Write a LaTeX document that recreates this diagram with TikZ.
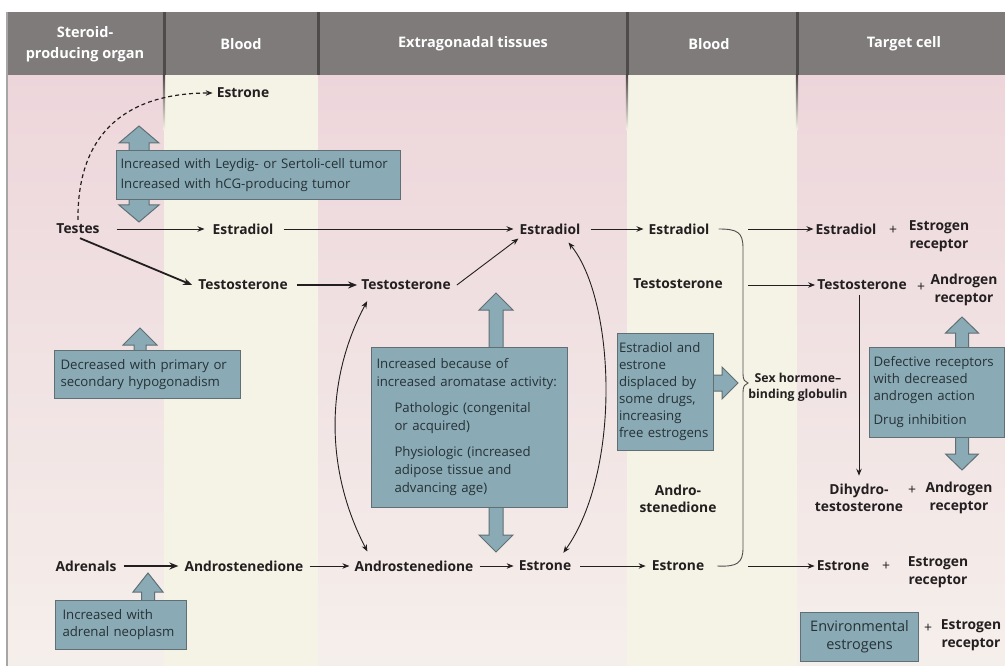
\documentclass[tikz,border=0pt]{standalone}
\usepackage{fontspec}
\setmainfont{Open Sans}
\usetikzlibrary{arrows.meta,calc}
\definecolor{pinkT}{HTML}{EDD6DB}
\definecolor{pinkB}{HTML}{F5EFEB}
\definecolor{creamc}{HTML}{F5F2E6}
\definecolor{hdrc}{HTML}{807B7B}
\definecolor{sepc}{HTML}{4F4B4B}
\definecolor{boxfill}{HTML}{8AAAB5}
\definecolor{boxline}{HTML}{5F6F74}
\definecolor{boxtext}{HTML}{263236}
\definecolor{labc}{HTML}{231F20}
\tikzset{
 lab/.style={font=\fontsize{13.8}{17.5}\selectfont\bfseries, text=labc, inner sep=1pt, align=center},
 plusl/.style={font=\fontsize{14}{17}\selectfont, text=labc, inner sep=1pt},
 hdr/.style={font=\fontsize{14.5}{21}\selectfont\bfseries, text=white, align=center},
 bbox/.style={draw=boxline, fill=boxfill, line width=1pt, text=boxtext, font=\fontsize{13.2}{17}\selectfont, align=left, anchor=north west, inner ysep=0pt},
 barrow/.style={draw=boxline, fill=boxfill, line width=1pt, line join=miter},
 ar/.style={draw=labc, line width=0.9pt, -{Stealth[length=7pt,width=5.5pt]}},
 tar/.style={draw=labc, line width=1.8pt, -{Stealth[length=9pt,width=7pt]}},
 dar/.style={draw=labc, line width=0.9pt, {Stealth[length=7pt,width=5.5pt]}-{Stealth[length=7pt,width=5.5pt]}},
 dashar/.style={draw=labc, line width=1.2pt, dash pattern=on 4pt off 3pt, -{Stealth[length=7pt,width=5.5pt]}},
}
\newcommand\bluevd[6]{\path[barrow] (#1,#2) -- ({#1+#4},{#2+#5}) -- ({#1+#6},{#2+#5}) -- ({#1+#6},{#3-#5}) -- ({#1+#4},{#3-#5}) -- (#1,#3) -- ({#1-#4},{#3-#5}) -- ({#1-#6},{#3-#5}) -- ({#1-#6},{#2+#5}) -- ({#1-#4},{#2+#5}) -- cycle;}
\newcommand\blueup[6]{\path[barrow] (#1,#2) -- ({#1+#4},{#2+#5}) -- ({#1+#6},{#2+#5}) -- ({#1+#6},#3) -- ({#1-#6},#3) -- ({#1-#6},{#2+#5}) -- ({#1-#4},{#2+#5}) -- cycle;}
\newcommand\blueright[6]{\path[barrow] (#2,#1) -- ({#2-#5},{#1+#4}) -- ({#2-#5},{#1+#6}) -- (#3,{#1+#6}) -- (#3,{#1-#6}) -- ({#2-#5},{#1-#6}) -- ({#2-#5},{#1-#4}) -- cycle;}
\begin{document}
\begin{tikzpicture}[x=1pt,y=-1pt]
\useasboundingbox (0,0) rectangle (1005,666);
\fill[white] (0,0) rectangle (1005,666);
% columns
\shade[top color=pinkT,bottom color=pinkB] (7,75) rectangle (164,666);
\fill[creamc] (164,75) rectangle (318,666);
\shade[top color=pinkT,bottom color=pinkB] (318,75) rectangle (627,666);
\fill[creamc] (627,75) rectangle (797,666);
\shade[top color=pinkT,bottom color=pinkB] (797,75) rectangle (1005,666);
% header
\fill[hdrc] (7,12) rectangle (1005,75);
\foreach \x in {164,318,627,797} {\fill[sepc] ({\x-1.5},12) rectangle ({\x+1.5},75);}
\foreach \x in {164,627,797} {\shade[top color=sepc,bottom color=creamc] ({\x-1.2},75) rectangle ({\x+1.2},130);}
\draw[gray!70,line width=1.2pt] (7,12) -- (7,666);
\node[hdr] (h1) at (85,44) {Steroid-\\producing organ};
\node[hdr] (h2) at (241,44) {Blood};
\node[hdr] (h3) at (473,44) {Extragonadal tissues};
\node[hdr] (h4) at (709,44) {Blood};
\node[hdr] (h5) at (904,44) {Target cell};
% labels
\node[lab] (estroneA) at (243,93) {Estrone};
\node[lab] (testes) at (78,229) {Testes};
\node[lab] (estradiolB) at (243,229) {Estradiol};
\node[lab] (testoB) at (243,285) {Testosterone};
\node[lab] (adrenals) at (86,566) {Adrenals};
\node[lab] (androB) at (244,566) {Androstenedione};
\node[lab] (estradiolE) at (550,229) {Estradiol};
\node[lab] (testoE) at (406,285) {Testosterone};
\node[lab] (androE) at (414,566) {Androstenedione};
\node[lab] (estroneE) at (545,566) {Estrone};
\node[lab] (estradiolB2) at (679,229) {Estradiol};
\node[lab] (testoB2) at (678,284) {Testosterone};
\node[lab] (androB2) at (678,499) {Andro-\\stenedione};
\node[lab] (estroneB2) at (678,566) {Estrone};
\node[lab,font=\fontsize{12.3}{16}\selectfont\bfseries] (shbg) at (798,387) {Sex hormone–\\binding globulin};
\node[lab] (estradiolT) at (846,229) {Estradiol};
\node[plusl] (plus1) at (893,230) {+};
\node[lab] (erecA) at (939,236) {Estrogen\\receptor};
\node[lab] (testoT) at (862,285) {Testosterone};
\node[plusl] (plus2) at (921,287) {+};
\node[lab] (arecA) at (964,290) {Androgen\\receptor};
\node[lab] (dht) at (859,498) {Dihydro-\\testosterone};
\node[plusl] (plus3) at (912,490) {+};
\node[lab] (arecB) at (959,498) {Androgen\\receptor};
\node[lab] (estroneT) at (843,566) {Estrone};
\node[plusl] (plus4) at (886,566) {+};
\node[lab] (erecB) at (938,572) {Estrogen\\receptor};
\node[plusl] (plus5) at (928,628) {+};
\node[lab] (erecC) at (971,635) {Estrogen\\receptor};
% connectors
\draw[dashar] ([yshift=3pt]testes.north) .. controls (77,130) and (130,93) .. ([xshift=-3pt]estroneA.west);
\draw[ar] ([xshift=16pt]testes.east) -- ([xshift=-7pt]estradiolB.west);
\draw[tar] ([xshift=2pt,yshift=-3pt]testes.south) -- ([xshift=-5pt]testoB.west);
\draw[ar] ([xshift=9pt]estradiolB.east) -- ([xshift=-5pt]estradiolE.west);
\draw[tar] ([xshift=8pt]testoB.east) -- ([xshift=-3pt]testoE.west);
\draw[ar] ([xshift=5pt]testoE.east) -- ([yshift=-3pt]estradiolE.south west);
\draw[ar] ([xshift=9pt]estradiolE.east) -- ([xshift=-4pt]estradiolB2.west);
\draw[tar] ([xshift=6pt]adrenals.east) -- ([xshift=-5pt]androB.west);
\draw[ar] ([xshift=5pt]androB.east) -- ([xshift=-4pt]androE.west);
\draw[ar] ([xshift=5pt]androE.east) -- ([xshift=-4pt]estroneE.west);
\draw[ar] ([xshift=8pt]estroneE.east) -- ([xshift=-5pt]estroneB2.west);
\draw[dar] ([xshift=7pt,yshift=-10pt]testoE.south west) .. controls (325,380) and (325,470) .. ([xshift=14pt,yshift=8pt]androE.north west);
\draw[dar] ([xshift=-13pt,yshift=-7pt]estradiolE.south east) .. controls (615,300) and (622,470) .. ([xshift=-9pt,yshift=7pt]estroneE.north east);
\draw[line width=0.9pt, draw=labc!80] ([xshift=8pt]estradiolB2.east) .. controls (737,229) and (743,232) .. (743,248) -- (743,374) .. controls (743,380) and (745,382) .. (748,383) .. controls (745,384) and (743,386) .. (743,392) -- (743,548) .. controls (743,563) and (737,567) .. ([xshift=12pt]estroneB2.east);
\coordinate (bA) at (748,229);
\coordinate (bB) at (748,285);
\coordinate (bC) at (748,566);
\draw[ar] (bA) -- ([xshift=-1pt]estradiolT.west);
\draw[ar] (bB) -- ([xshift=-1pt]testoT.west);
\draw[ar] (bC) -- ([xshift=-1pt]estroneT.west);
\draw[ar] ([xshift=-3pt,yshift=-4pt]testoT.south) -- ([xshift=0pt,yshift=7pt]dht.north);
% blue arrows
\bluevd{139}{126}{222}{20}{17}{10}
\blueup{140}{328}{360}{17}{17}{6}
\blueup{148}{573}{610}{15}{19}{6.5}
\bluevd{496}{293}{552}{17}{17}{7}
\bluevd{962}{317}{470}{16.5}{16}{6.5}
\blueright{383}{738}{700}{16}{16}{8}
% boxes
\node[bbox, minimum width=284pt, minimum height=49pt, text width=276pt, inner xsep=4pt, font=\fontsize{13.2}{19.5}\selectfont] (bxLeydig) at (116,150) {Increased with Leydig- or Sertoli-cell tumor\\Increased with hCG-producing tumor};
\node[bbox, minimum width=186pt, minimum height=48pt, text width=174pt, inner xsep=6pt] (bxHypo) at (54,350) {Decreased with primary or\\secondary hypogonadism};
\node[bbox, minimum width=131pt, minimum height=49pt, text width=117pt, inner xsep=7pt] (bxAdr) at (55,600) {Increased with\\adrenal neoplasm};
\node[bbox, minimum width=196pt, minimum height=160pt, text width=186pt, inner xsep=5pt, font=\fontsize{13.2}{18}\selectfont] (bxArom) at (371,347) {Increased because of\\increased aromatase activity:\\[8pt]\hspace*{18pt}Pathologic (congenital\\\hspace*{18pt}or acquired)\\[8pt]\hspace*{18pt}Physiologic (increased\\\hspace*{18pt}adipose tissue and\\\hspace*{18pt}advancing age)};
\node[bbox, minimum width=96pt, minimum height=117pt, text width=93pt, inner xsep=1.5pt] (bxDisp) at (617,333) {Estradiol and\\estrone\\displaced by\\some drugs,\\increasing\\free estrogens};
\node[bbox, minimum width=135pt, minimum height=90pt, text width=127pt, inner xsep=4pt] (bxDef) at (869,347) {Defective receptors\\with decreased\\androgen action\\[7pt]Drug inhibition};
\node[bbox, minimum width=118pt, minimum height=49pt, text width=114pt, inner xsep=2pt, align=center, font=\fontsize{14.5}{18}\selectfont] (bxEnv) at (800,612) {Environmental\\estrogens};
\end{tikzpicture}
\end{document}
